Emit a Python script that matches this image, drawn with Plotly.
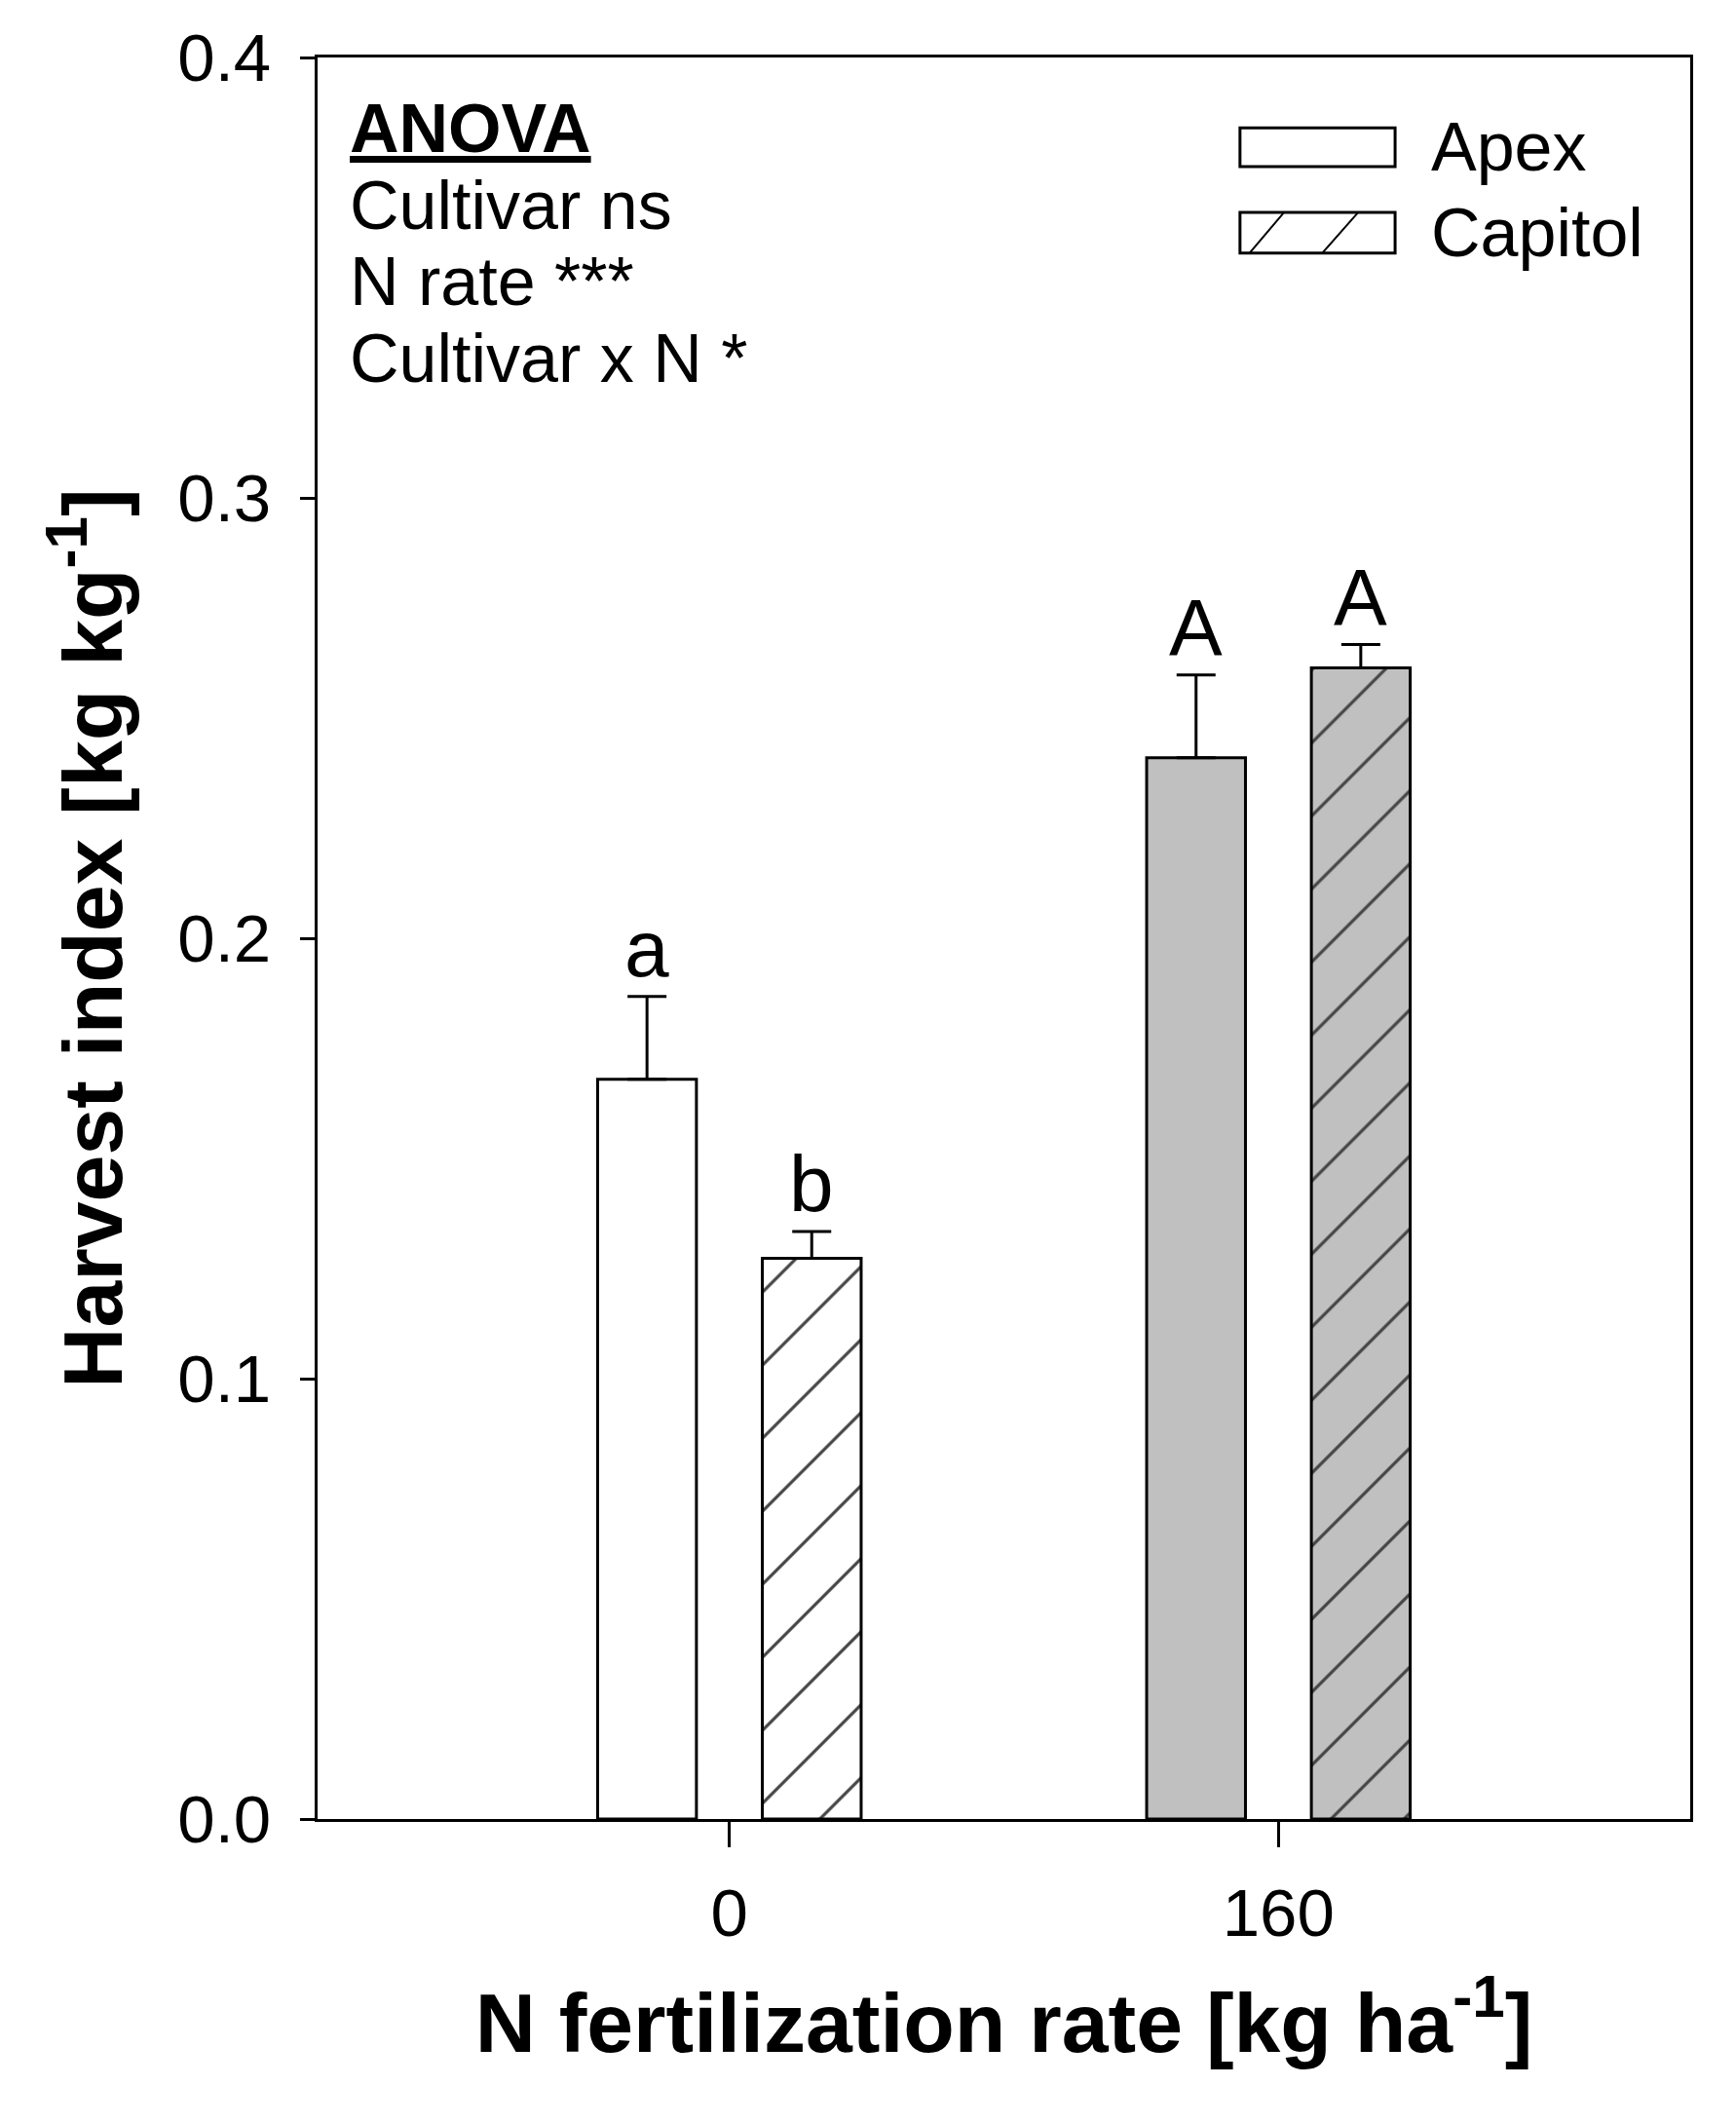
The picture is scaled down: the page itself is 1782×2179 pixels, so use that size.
import plotly.graph_objects as go

# N fertilization rate [kg ha-1]
n_rates = ["0", "160"]
cultivars = ["Apex", "Capitol"]

# Harvest index means and upper error bars
apex_mean = [0.168, 0.241]
apex_err = [0.0188, 0.0188]
capitol_mean = [0.1273, 0.2614]
capitol_err = [0.0061, 0.0053]

# significance letters
apex_letters = ["a", "A"]
capitol_letters = ["b", "A"]

y_ticks = [0.0, 0.1, 0.2, 0.3, 0.4]

anova_lines = ["<b><u>ANOVA</u></b>", "Cultivar ns", "N rate ***", "Cultivar x N *"]

FONT = "Arial, Liberation Sans, sans-serif"
GRAY = "#c0c0c0"
fills = ["white", GRAY]  # 0 N bars white, 160 N bars gray

x_pos = list(range(len(n_rates)))
bargap = 0.4
shift = (1 - bargap) / 4  # centre offset of each bar in a group

fig = go.Figure()
fig.add_trace(go.Bar(
    x=x_pos, y=apex_mean, name=cultivars[0],
    marker=dict(color=fills, line=dict(color="black", width=3)),
    error_y=dict(type="data", symmetric=False, array=apex_err,
                 arrayminus=[0] * len(apex_err),
                 color="black", thickness=3, width=20),
))
fig.add_trace(go.Bar(
    x=x_pos, y=capitol_mean, name=cultivars[1],
    marker=dict(color=fills, line=dict(color="black", width=3),
                pattern=dict(shape="/", size=53, solidity=0.06,
                             fgcolor="black", fgopacity=1,
                             fillmode="overlay")),
    error_y=dict(type="data", symmetric=False, array=capitol_err,
                 arrayminus=[0] * len(capitol_err),
                 color="black", thickness=3, width=20),
))

# letters above error bars
annotations = []
for off, means, errs, letters in [(-shift, apex_mean, apex_err, apex_letters),
                                  (shift, capitol_mean, capitol_err, capitol_letters)]:
    for xi, m, e, t in zip(x_pos, means, errs, letters):
        annotations.append(dict(x=xi + off, y=m + e, xref="x", yref="y",
                                text=t, showarrow=False, yanchor="bottom",
                                yshift=2, font=dict(size=82, family=FONT)))

# ANOVA block
for i, line in enumerate(anova_lines):
    annotations.append(dict(x=0.022, y=0.9596 - i * 0.0435, xref="paper",
                            yref="paper", text=line, showarrow=False,
                            xanchor="left", yanchor="middle",
                            font=dict(size=70, family=FONT)))

# hand-made legend (big boxes like the original)
lx0, lx1 = 0.672, 0.785
rows = [(0.938, 0.960), (0.889, 0.912)]
shapes = []
for (y0, y1), name in zip(rows, cultivars):
    shapes.append(dict(type="rect", xref="paper", yref="paper",
                       x0=lx0, x1=lx1, y0=y0, y1=y1,
                       line=dict(color="black", width=3), fillcolor="white"))
    annotations.append(dict(x=0.81, y=(y0 + y1) / 2, xref="paper", yref="paper",
                            text=name, showarrow=False, xanchor="left",
                            yanchor="middle", font=dict(size=70, family=FONT)))
# hatch in the Capitol legend box
cy0, cy1 = rows[1]
for bx, tx in [(0.679, 0.704), (0.732, 0.758)]:
    shapes.append(dict(type="line", xref="paper", yref="paper",
                       x0=bx, x1=tx, y0=cy0, y1=cy1,
                       line=dict(color="black", width=2)))

# page body adds an 8px margin, so the figure is a bit smaller than the window
fig.update_layout(
    width=1774, height=2171,
    margin=dict(l=318, r=47, t=51, b=312),
    plot_bgcolor="white", paper_bgcolor="white",
    barmode="group", bargap=bargap, bargroupgap=0.4,
    showlegend=False,
    font=dict(family=FONT, size=69, color="black"),
    annotations=annotations, shapes=shapes,
    xaxis=dict(
        range=[-0.75, 1.75], tickvals=x_pos, ticktext=n_rates,
        ticks="outside", ticklen=26, tickwidth=3, tickcolor="black",
        ticklabelstandoff=8,
        showline=True, linewidth=3, linecolor="black", mirror=True,
        showgrid=False, zeroline=False,
        title=dict(text="N fertilization rate [kg ha<sup>-1</sup>]",
                   font=dict(size=86, family=FONT, weight="bold"),
                   standoff=46),
        automargin=False,
    ),
    yaxis=dict(
        range=[0, 0.4], tickvals=y_ticks, tickformat=".1f",
        ticks="outside", ticklen=15, tickwidth=3, tickcolor="black",
        ticklabelstandoff=16,
        showline=True, linewidth=3, linecolor="black", mirror=True,
        showgrid=False, zeroline=False,
        title=dict(text="Harvest index [kg kg<sup>-1</sup>]",
                   font=dict(size=86, family=FONT, weight="bold"),
                   standoff=29),
        automargin=False,
    ),
)

fig.write_html("out.html")
